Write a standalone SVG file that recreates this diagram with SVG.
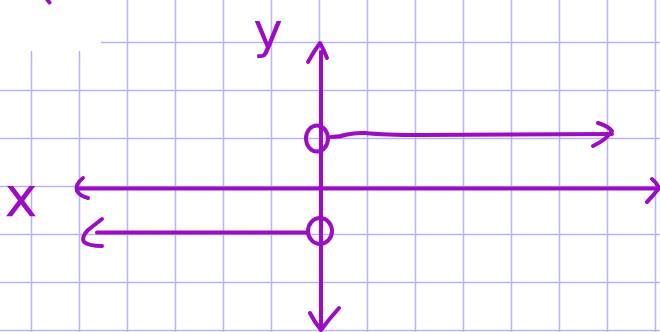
<svg xmlns="http://www.w3.org/2000/svg" width="660" height="332" viewBox="0 0 660 332">
  <style>
    .grid line { stroke: #b5b5f6; stroke-width: 1.5; }
    .ink { fill: none; stroke: #9c0cc4; stroke-width: 4; stroke-linecap: round; stroke-linejoin: round; }
    .lbl { font-family: "DejaVu Sans", sans-serif; fill: #9c0cc4; text-anchor: middle; }
  </style>
  <rect width="660" height="332" fill="#ffffff"/>
  <g id="grid" class="grid">
    <line x1="31.5" y1="0" x2="31.5" y2="332"/>
    <line x1="79.5" y1="0" x2="79.5" y2="332"/>
    <line x1="127.5" y1="0" x2="127.5" y2="332"/>
    <line x1="175.5" y1="0" x2="175.5" y2="332"/>
    <line x1="223.5" y1="0" x2="223.5" y2="332"/>
    <line x1="271.5" y1="0" x2="271.5" y2="332"/>
    <line x1="319.5" y1="0" x2="319.5" y2="332"/>
    <line x1="367.5" y1="0" x2="367.5" y2="332"/>
    <line x1="415.5" y1="0" x2="415.5" y2="332"/>
    <line x1="463.5" y1="0" x2="463.5" y2="332"/>
    <line x1="511.5" y1="0" x2="511.5" y2="332"/>
    <line x1="559.5" y1="0" x2="559.5" y2="332"/>
    <line x1="607.5" y1="0" x2="607.5" y2="332"/>
    <line x1="655.5" y1="0" x2="655.5" y2="332"/>
    <line x1="0" y1="42.5" x2="660" y2="42.5"/>
    <line x1="0" y1="90.5" x2="660" y2="90.5"/>
    <line x1="0" y1="138.5" x2="660" y2="138.5"/>
    <line x1="0" y1="186.5" x2="660" y2="186.5"/>
    <line x1="0" y1="234.5" x2="660" y2="234.5"/>
    <line x1="0" y1="282.5" x2="660" y2="282.5"/>
    <line x1="0" y1="330.5" x2="660" y2="330.5"/>
  </g>
  <rect x="0" y="0" width="101" height="51" fill="#ffffff"/>
  <path class="ink" d="M47.5 0 L49.5 2.5" stroke-width="3"/>
  <g id="connectors">
    <path class="ink" d="M321 52 L321 328"/>
    <path class="ink" d="M308 62 Q314 51 320 43 Q324 50 327 58"/>
    <path class="ink" d="M310 313 Q315 323 321 330 Q330 318 339 308"/>
    <path class="ink" d="M77 188.5 L659 188.5"/>
    <path class="ink" d="M83 178 Q75 184 77 191 Q80 196 88 198"/>
    <path class="ink" d="M652 179 Q657 183 659 188 Q653 196 647 202"/>
    <path class="ink" d="M331 137 Q340 137 347 134.5 Q355 132.5 365 133 Q385 135 420 135 L612 134"/>
    <path class="ink" d="M598 123 Q608 126 612 131 Q606 140 593 146"/>
    <path class="ink" d="M307 232.5 L97 232.5"/>
    <path class="ink" d="M102 219 L88 230 Q81 237 84 242 Q89 246 102 246"/>
  </g>
  <g id="open-point-top">
    <ellipse class="ink" cx="317" cy="138.5" rx="11" ry="13"/>
  </g>
  <g id="open-point-bottom">
    <ellipse class="ink" cx="320" cy="231" rx="12" ry="13"/>
  </g>
  <g id="label-y">
    <text class="lbl" x="268" y="48" font-size="50">y</text>
  </g>
  <g id="label-x">
    <text class="lbl" x="21" y="216" font-size="56">x</text>
  </g>
</svg>
